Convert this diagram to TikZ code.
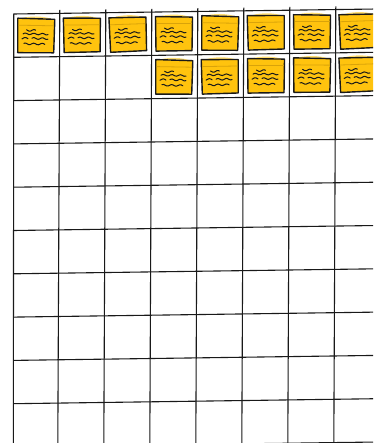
\documentclass[tikz,border=0pt]{standalone}
\usepackage{xcolor}
\usepackage{tikz}

\definecolor{noteyellow}{HTML}{FFC30E}
\definecolor{noteband}{HTML}{D9A30A}
\definecolor{noteglow}{HTML}{FFDD70}

\tikzset{
  gridline/.style={line width=1.1pt, draw=black!90},
  notebody/.style={fill=noteyellow, draw=black!90, line width=1.4pt, line join=round},
  bandline/.style={draw=noteband, line width=0.8pt},
  scribble/.style={line width=1pt, draw=black!90, line cap=round}
}

% one scribbled text line of a note
\newcommand{\scrib}[3]{\draw[scribble] plot[smooth,domain=#1:#2,samples=14] (\x,{#3+0.8*sin(\x*42)});}

% sticky note at (x,y), turned by an angle
\newcommand{\stickynote}[3]{%
  \begin{scope}[shift={(#1,#2)},rotate=#3]
    \fill[noteglow] (-18,-16) .. controls (-8,-20) and (8,-20) .. (18,-16) -- cycle;
    \filldraw[notebody] (-18.5,-17) -- (18.5,-16.5) -- (18,17) -- (-18,17.5) -- cycle;
    \draw[bandline] (-17.5,-10) -- (17.5,-10);
    \scrib{-9.5}{-0.5}{-5}
    \scrib{-13}{12}{-1.5}
    \scrib{-14}{-8}{3}
    \scrib{-4}{12}{3}
    \scrib{-12}{9}{8.5}
  \end{scope}}

\begin{document}
\begin{tikzpicture}[x=1pt,y=-1pt]
\useasboundingbox (0,0) rectangle (373,443);
\clip (0,0) rectangle (373,443);

% rows
\draw[gridline] (13.5,14) -- (373,9.05);
\draw[gridline] (13.5,57.3) -- (373,52.35);
\draw[gridline] (13.5,100.6) -- (373,95.65);
\draw[gridline] (13.5,143.9) -- (373,138.95);
\draw[gridline] (13.5,187.2) -- (373,182.25);
\draw[gridline] (13.5,230.5) -- (373,225.55);
\draw[gridline] (13.5,273.8) -- (373,268.85);
\draw[gridline] (13.5,317.1) -- (373,312.15);
\draw[gridline] (13.5,360.4) -- (373,355.45);
\draw[gridline] (13.5,403.7) -- (373,398.75);
\draw[gridline] (13.5,447) -- (373,442.05);

% columns
\draw[gridline] (13.8,14) -- (13.3,445);
\draw[gridline] (59.8,10) -- (57.8,445);
\draw[gridline] (105.8,9.4) -- (103.8,445);
\draw[gridline] (151.8,8.8) -- (149.8,445);
\draw[gridline] (197.8,8.2) -- (195.8,445);
\draw[gridline] (243.8,7.6) -- (241.8,445);
\draw[gridline] (289.8,6.9) -- (287.8,445);
\draw[gridline] (335.8,6.3) -- (333.8,445);

% first row of notes
\stickynote{36}{35.5}{-1}
\stickynote{82}{34.9}{0.5}
\stickynote{128}{34.2}{2}
\stickynote{174}{33.6}{0}
\stickynote{220}{33.0}{-1}
\stickynote{266}{32.3}{1}
\stickynote{312}{31.7}{0}
\stickynote{358}{31.1}{2}

% second row of notes
\stickynote{174}{76.9}{-1}
\stickynote{220}{76.3}{1}
\stickynote{266}{75.6}{0}
\stickynote{312}{75.0}{-0.5}
\stickynote{358}{74.4}{2}
\end{tikzpicture}
\end{document}
